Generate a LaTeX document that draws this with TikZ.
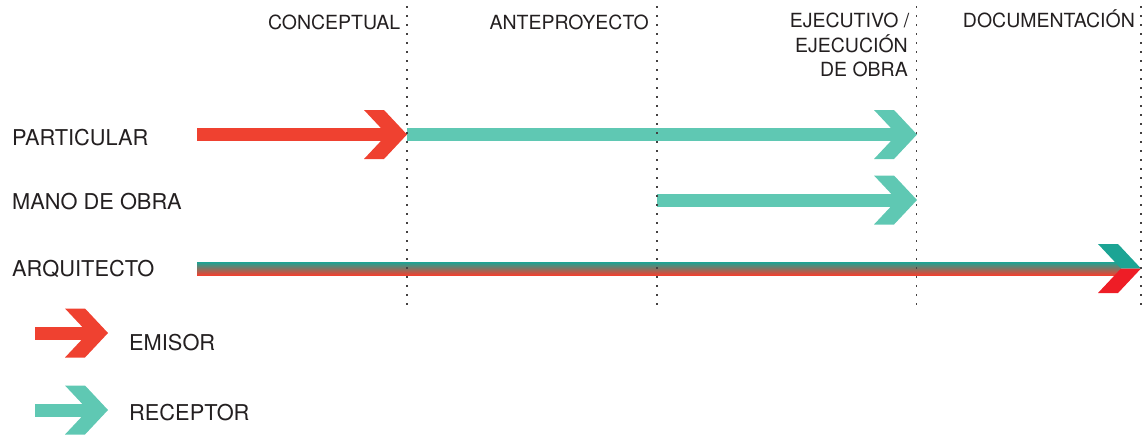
\documentclass[tikz,border=0pt]{standalone}
\usepackage{fontspec}
\setmainfont{TeX Gyre Heros}
\definecolor{emit}{HTML}{EF4130}
\definecolor{recv}{HTML}{5FC8B3}
\definecolor{deepteal}{HTML}{1CA494}
\definecolor{deepred}{HTML}{EE1D26}
\definecolor{ink}{HTML}{231F20}
\begin{document}
\begin{tikzpicture}[x=1pt,y=-1pt,
  phase/.style={font=\fontsize{19.5}{23}\selectfont, text=ink, inner sep=0pt, anchor=base east},
  role/.style={font=\fontsize{21.8}{26}\selectfont, text=ink, inner sep=0pt, anchor=base west},
  grid/.style={draw=ink!85, line width=1.7pt, dash pattern=on 1.7pt off 7.3pt},
  shaft/.style={draw=#1, line width=13pt},
  pics/chev/.style={code={
    \fill[#1] (-43,-24.5) -- (-23,-24.5) -- (0,0) -- (-23,24.5) -- (-43,24.5) -- (-20,0) -- cycle;}},
  pics/splitchev/.style 2 args={code={
    \fill[#1] (-43,-24.5) -- (-23,-24.5) -- (0,0) -- (-20,0) -- cycle;
    \fill[#2] (-20,0) -- (0,0) -- (-23,24.5) -- (-43,24.5) -- cycle;}}]
\useasboundingbox (0,0) rectangle (1145,434);

% phase boundaries
\coordinate (p1t) at (407,6);    \coordinate (p1b) at (407,311);
\coordinate (p2t) at (657,6);    \coordinate (p2b) at (657,311);
\coordinate (p3t) at (916.5,6);  \coordinate (p3b) at (916.5,311);
\coordinate (p4t) at (1141,6);   \coordinate (p4b) at (1141,311);

% phase titles
\node[phase] (conc) at (400.5,29) {CONCEPTUAL};
\node[phase] (ante) at (649,29) {ANTEPROYECTO};
\node[phase] (ejec1) at (909.5,27) {EJECUTIVO /};
\node[phase] (ejec2) at (908,52) {EJECUCIÓN};
\node[phase] (ejec3) at (908,76) {DE OBRA};
\node[phase] (docu) at (1135,27) {DOCUMENTACIÓN};

% roles
\node[role] (part) at (12,145) {PARTICULAR};
\node[role] (mano) at (12,209) {MANO DE OBRA};
\node[role] (arq) at (12,276) {ARQUITECTO};

% PARTICULAR: emits during the concept phase, receives until execution
\coordinate (partS) at (197,134.5);
\coordinate (partM) at (387,134.5);
\coordinate (partT) at (407,134.5);
\coordinate (partR) at (897,134.5);
\coordinate (partE) at (917,134.5);
\draw[shaft=recv] (partT) -- (partR);
\pic at (partE) {chev=recv};
\draw[shaft=emit] (partS) -- (partM);
\pic at (partT) {chev=emit};

% MANO DE OBRA: receives from the preliminary design onwards
\coordinate (manoS) at (657,200);
\coordinate (manoR) at (897,200);
\coordinate (manoE) at (917,200);
\draw[shaft=recv] (manoS) -- (manoR);
\pic at (manoE) {chev=recv};

% ARQUITECTO: emitter and receiver through every phase
\coordinate (arqS) at (197,268.5);
\coordinate (arqR) at (1121,268.5);
\coordinate (arqE) at (1141,268.5);
\shade[top color=deepteal, middle color=deepteal!50!emit, bottom color=emit]
  ([yshift=6.5pt]arqS) rectangle ([yshift=-6.5pt]arqR);
\pic at (arqE) {splitchev={deepteal}{deepred}};

% dotted phase boundaries over the arrows
\draw[grid] (p1t) -- (p1b);
\draw[grid] (p2t) -- (p2b);
\draw[grid] (p3t) -- (p3b);
\draw[grid] (p4t) -- (p4b);

% legend
\coordinate (emS) at (35,333);
\coordinate (emR) at (88,333);
\coordinate (emE) at (108,333);
\draw[shaft=emit] (emS) -- (emR);
\pic at (emE) {chev=emit};
\node[role] (emL) at (129,350) {EMISOR};

\coordinate (reS) at (35,410);
\coordinate (reR) at (88,410);
\coordinate (reE) at (108,410);
\draw[shaft=recv] (reS) -- (reR);
\pic at (reE) {chev=recv};
\node[role] (reL) at (129,420) {RECEPTOR};
\end{tikzpicture}
\end{document}
